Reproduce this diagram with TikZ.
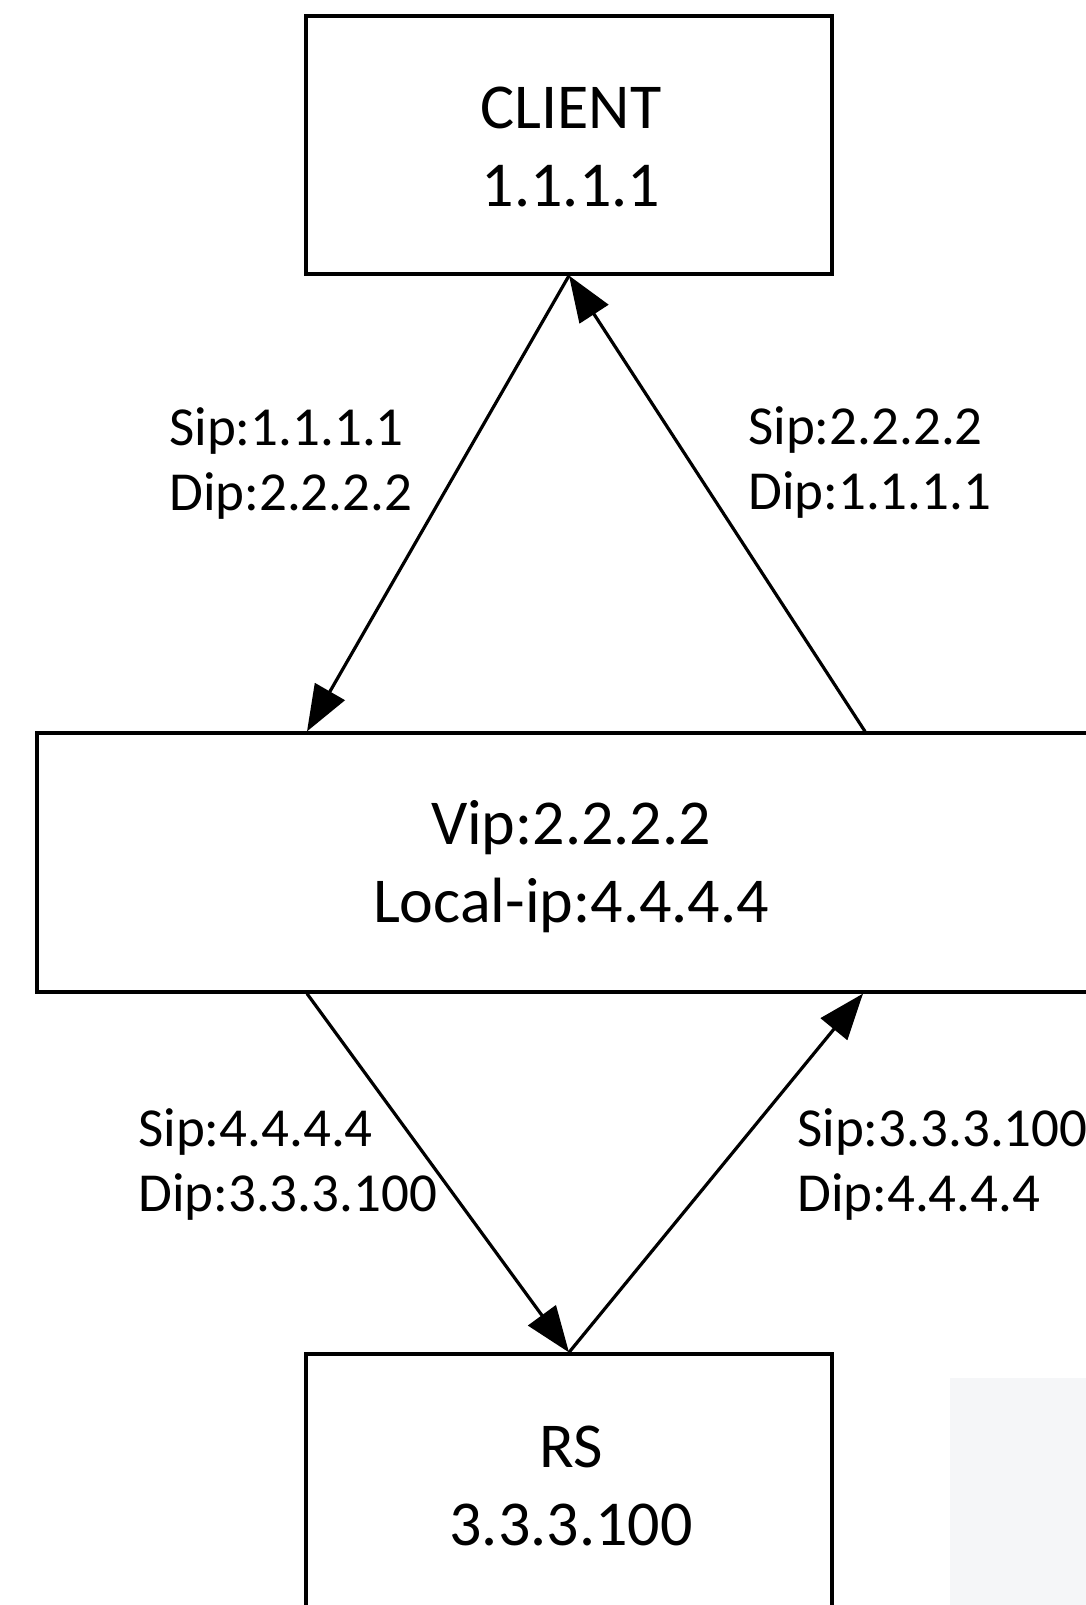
\documentclass[tikz,border=0pt]{standalone}
\usepackage{fontspec}
\setmainfont{Carlito}
\usetikzlibrary{arrows.meta,calc}
\definecolor{wmark}{HTML}{F5F6F8}
\begin{document}
\begin{tikzpicture}[x=1pt,y=-1pt,
  box/.style={draw,line width=3.2pt,rectangle,inner sep=0pt,align=center,
    font=\fontsize{64}{78}\selectfont},
  boxtext/.style={inner sep=0pt,align=center,font=\fontsize{64}{78}\selectfont},
  lbl/.style={inner sep=0pt,align=left,anchor=west,
    font=\fontsize{55}{65}\selectfont},
  flow/.style={line width=3.2pt,-{Triangle[length=46pt,width=34pt]}}]
\useasboundingbox (0,0) rectangle (1086,1605);
\clip (0,0) rectangle (1086,1605);
\fill[white] (0,0) rectangle (1086,1605);
% faint background panel, lower right
\fill[wmark] (950,1378) rectangle (1086,1605);

% hosts
\node[box,minimum width=526pt,minimum height=258pt] (client) at (569,145) {};
\node[boxtext] (clienttxt) at (571,147) {CLIENT\\1.1.1.1};
\node[box,minimum width=1068pt,minimum height=259pt] (mid) at (571,862.5) {};
\node[boxtext] (midtxt) at (571,866.5) {Vip:2.2.2.2\\Local-ip:4.4.4.4};
\node[box,fill=white,minimum width=526pt,minimum height=264pt] (rs) at (569,1486) {};
\node[boxtext] (rstxt) at (571,1486) {RS\\3.3.3.100};

% packet flows
\draw[flow] (client.south) -- ($(mid.north)+(-264,0)$);
\draw[flow] ($(mid.north)+(294,0)$) -- (client.south);
\draw[flow] ($(mid.south)+(-264,0)$) -- (rs.north);
\draw[flow] (rs.north) -- ($(mid.south)+(292,0)$);

% address labels
\node[lbl] (l1) at (169,464) {Sip:1.1.1.1\\Dip:2.2.2.2};
\node[lbl] (l2) at (748,463) {Sip:2.2.2.2\\Dip:1.1.1.1};
\node[lbl] (l3) at (138,1164) {Sip:4.4.4.4\\Dip:3.3.3.100};
\node[lbl] (l4) at (797,1164) {Sip:3.3.3.100\\Dip:4.4.4.4};
\end{tikzpicture}
\end{document}
